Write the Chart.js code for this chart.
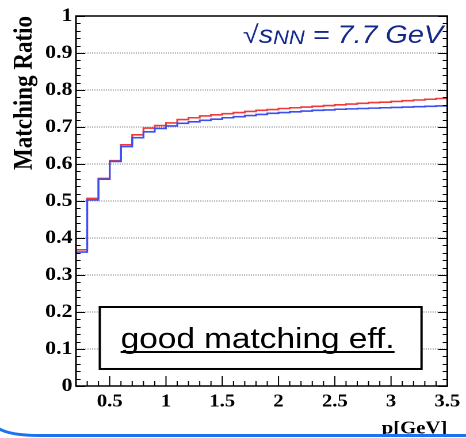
<!DOCTYPE html>
<html>
<head>
<meta charset="utf-8">
<script src="https://cdn.jsdelivr.net/npm/chart.js@4/dist/chart.umd.min.js"></script>
<style>
  html, body { margin: 0; padding: 0; background: #fff; }
  #wrap { width: 466px; height: 438px; overflow: hidden; }
</style>
</head>
<body>
<!-- the slide picture is stretched sideways, so the canvas is drawn 405 wide and shown 466 wide -->
<div id="wrap"><canvas id="c" width="405" height="438" style="width:466px;height:438px;display:block"></canvas></div>
<script>
// bin edges in p [GeV], 0.1 wide
const binEdges = [0.2, 0.3, 0.4, 0.5, 0.6, 0.7, 0.8, 0.9, 1.0, 1.1, 1.2, 1.3, 1.4, 1.5, 1.6, 1.7,
  1.8, 1.9, 2.0, 2.1, 2.2, 2.3, 2.4, 2.5, 2.6, 2.7, 2.8, 2.9, 3.0, 3.1, 3.2, 3.3, 3.4, 3.5];

// matching ratio per bin
const redRatio = [0.368, 0.507, 0.561, 0.609, 0.652, 0.679, 0.697, 0.704, 0.711, 0.720, 0.725,
  0.730, 0.733, 0.736, 0.739, 0.742, 0.745, 0.747, 0.750, 0.752, 0.754, 0.756, 0.758, 0.760,
  0.762, 0.764, 0.766, 0.767, 0.769, 0.771, 0.773, 0.775, 0.777];
const blueRatio = [0.362, 0.503, 0.559, 0.607, 0.647, 0.671, 0.687, 0.696, 0.703, 0.710, 0.714,
  0.718, 0.721, 0.725, 0.728, 0.731, 0.734, 0.737, 0.739, 0.741, 0.743, 0.745, 0.746, 0.748,
  0.749, 0.750, 0.751, 0.752, 0.753, 0.754, 0.755, 0.756, 0.757];

const xTicks = [0.5, 1, 1.5, 2, 2.5, 3, 3.5];
const yTicks = [0, 0.1, 0.2, 0.3, 0.4, 0.5, 0.6, 0.7, 0.8, 0.9, 1];

const serif = "'Liberation Serif', 'Times New Roman', serif";
const sans = "'Liberation Sans', Arial, sans-serif";

// histogram as step line: each bin starts at its low edge, last point closes the bin
function histPoints(vals) {
  let pts = vals.map((v, i) => ({ x: binEdges[i], y: v }));
  pts.push({ x: binEdges[vals.length], y: vals[vals.length - 1] });
  return pts;
}

// frame, inner ticks, labels
const rootFrame = {
  id: 'rootFrame',
  afterDatasetsDraw(chart) {
    const ctx = chart.ctx;
    const a = chart.chartArea;
    const xs = chart.scales.x, ys = chart.scales.y;
    ctx.save();
    ctx.strokeStyle = '#000';
    ctx.lineWidth = 1;

    // y ticks on both sides, minor every 0.02
    ctx.beginPath();
    for (let k = 0; k <= 50; k++) {
      const y = Math.round(ys.getPixelForValue(k * 0.02)) + 0.5;
      const len = (k % 5 === 0) ? 8 : 4;
      ctx.moveTo(a.left, y); ctx.lineTo(a.left + len, y);
      ctx.moveTo(a.right, y); ctx.lineTo(a.right - len, y);
    }
    // x ticks, minor every 0.1
    for (let k = 2; k <= 35; k++) {
      const x = xs.getPixelForValue(k * 0.1);
      const len = (k % 5 === 0) ? 10 : 5;
      ctx.moveTo(x, a.bottom); ctx.lineTo(x, a.bottom - len);
    }
    ctx.stroke();

    ctx.lineWidth = 1.5;
    ctx.strokeRect(a.left, a.top, a.right - a.left, a.bottom - a.top);

    // energy label
    let ex = xs.getPixelForValue(3.462);
    let ey = ys.getPixelForValue(0.927);
    ctx.fillStyle = '#142889';
    ctx.textBaseline = 'alphabetic';
    ctx.textAlign = 'left';
    const big = 'italic 25px ' + sans, sub = 'italic 19px ' + sans;
    ctx.font = big;
    const w1 = ctx.measureText('\u221As').width;
    const w3 = ctx.measureText(' = 7.7 GeV').width;
    ctx.font = sub;
    const w2 = ctx.measureText('NN').width;
    let x0 = ex - (w1 + w2 + w3);
    ctx.font = big;
    ctx.fillText('\u221As', x0, ey);
    ctx.font = sub;
    ctx.fillText('NN', x0 + w1, ey + 1);
    ctx.font = big;
    ctx.fillText(' = 7.7 GeV', x0 + w1 + w2, ey);

    // text box
    const bl = xs.getPixelForValue(0.412), br = xs.getPixelForValue(3.271);
    const bt = ys.getPixelForValue(0.2135), bb = ys.getPixelForValue(0.046);
    ctx.fillStyle = '#fff';
    ctx.fillRect(bl, bt, br - bl, bb - bt);
    ctx.lineWidth = 2;
    ctx.strokeRect(bl, bt, br - bl, bb - bt);
    const tx = xs.getPixelForValue(0.597), ty = ys.getPixelForValue(0.1027);
    ctx.fillStyle = '#000';
    ctx.font = '29px ' + sans;
    ctx.fillText('good matching eff.', tx, ty);
    const tw = ctx.measureText('good matching eff.').width;
    ctx.fillRect(tx, ty + 3, tw, 2);
    ctx.restore();
  },
  afterDraw(chart) {
    // blue slide border along the bottom
    const ctx = chart.ctx;
    const w = chart.width;
    ctx.save();
    ctx.strokeStyle = '#1a74f0';
    ctx.lineWidth = 3;
    ctx.beginPath();
    ctx.moveTo(-2, 428);
    ctx.quadraticCurveTo(8, 435.5, 35, 435.5);
    ctx.lineTo(w + 2, 435.5);
    ctx.stroke();
    ctx.fillStyle = '#fff';
    ctx.fillRect(0, 437, w, 2);
    ctx.restore();
  }
};

const ctx = document.getElementById('c').getContext('2d');
new Chart(ctx, {
  type: 'line',
  data: {
    datasets: [{
      label: 'blue',
      data: histPoints(blueRatio),
      borderColor: '#3a4ff2',
      borderWidth: 1.6,
      stepped: 'before',
      pointRadius: 0,
      fill: false
    }, {
      label: 'red',
      data: histPoints(redRatio),
      borderColor: '#f03a3a',
      borderWidth: 1.6,
      stepped: 'before',
      pointRadius: 0,
      fill: false
    }]
  },
  options: {
    responsive: false,
    animation: false,
    devicePixelRatio: 2,
    layout: { padding: { top: 16, right: 15, bottom: 0, left: 0 } },
    plugins: { legend: { display: false }, tooltip: { enabled: false } },
    scales: {
      x: {
        type: 'linear',
        min: 0.2,
        max: 3.5,
        afterFit(s) { s.height = 52; },
        afterBuildTicks(s) { s.ticks = xTicks.map(v => ({ value: v })); },
        grid: { display: false, drawTicks: false },
        border: { display: false },
        ticks: {
          padding: 5,
          color: '#000',
          font: { family: serif, size: 18, weight: 'bold' },
          maxRotation: 0,
          autoSkip: false,
          callback: v => String(v)
        },
        title: {
          display: true,
          text: 'p[GeV]',
          align: 'end',
          color: '#000',
          padding: 0,
          font: { family: serif, size: 18, weight: 'bold', lineHeight: 1 }
        }
      },
      y: {
        min: 0,
        max: 1,
        afterFit(s) { s.width = 66; },
        afterBuildTicks(s) { s.ticks = yTicks.map(v => ({ value: v })); },
        grid: {
          drawTicks: false,
          lineWidth: 1,
          color: c => (c.tick && (c.tick.value === 0 || c.tick.value === 1)) ? 'rgba(0,0,0,0)' : '#8a8a8a'
        },
        border: { display: false, dash: [1, 1] },
        ticks: {
          padding: 3,
          color: '#000',
          font: { family: serif, size: 19, weight: 'bold' },
          autoSkip: false,
          callback: v => (v === 0 ? '0' : v === 1 ? '1' : v.toFixed(1))
        },
        title: {
          display: true,
          text: 'Matching Ratio',
          align: 'end',
          color: '#000',
          padding: { top: 8, bottom: 0 },
          font: { family: serif, size: 23, weight: 'bold' }
        }
      }
    }
  },
  plugins: [rootFrame]
});
</script>
</body>
</html>
